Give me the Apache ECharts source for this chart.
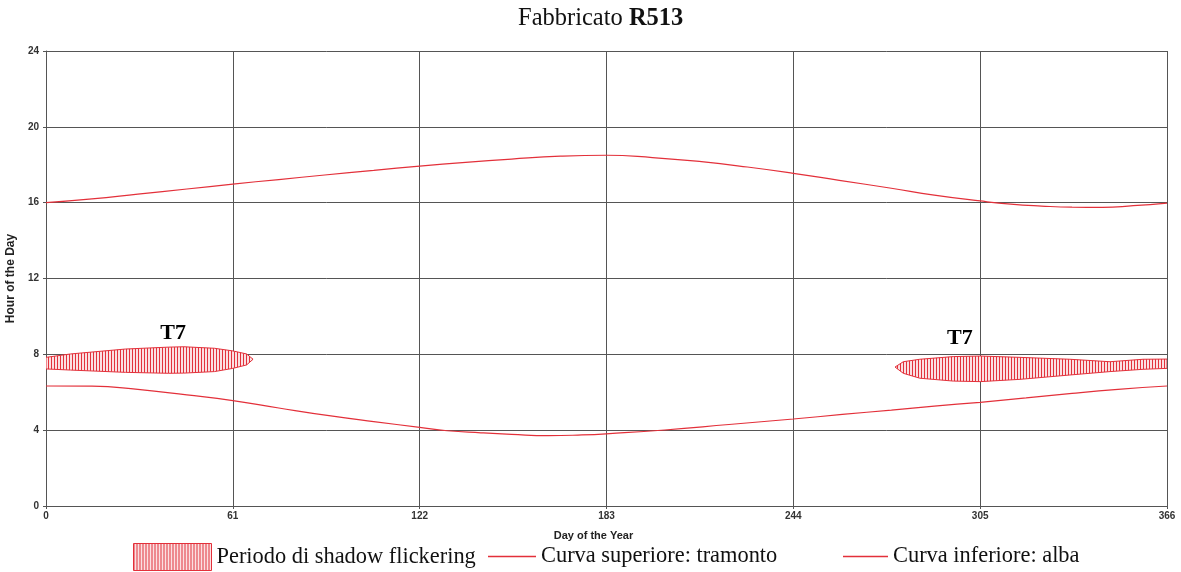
<!DOCTYPE html>
<html>
<head>
<meta charset="utf-8">
<script src="https://cdn.jsdelivr.net/npm/echarts@6/dist/echarts.min.js"></script>
<style>
html,body{margin:0;padding:0;background:#fff;}
#chart{width:1181px;height:572px;}
</style>
</head>
<body>
<div id="chart"></div>
<script>
// ---- data ----
const xTicks = [0, 61, 122, 183, 244, 305, 366];
const yTicks = [0, 4, 8, 12, 16, 20, 24];

const upperDays = [0, 15, 30, 46, 61, 76, 91, 107, 122, 137, 152, 168, 183, 198, 214, 229, 244, 259, 276, 290, 305, 315, 325, 335, 345, 355, 366];
const upperHours = [16.0, 16.2, 16.45, 16.72, 16.98, 17.22, 17.46, 17.70, 17.93, 18.13, 18.30, 18.45, 18.50, 18.38, 18.16, 17.88, 17.55, 17.18, 16.76, 16.40, 16.09, 15.92, 15.82, 15.76, 15.75, 15.84, 15.98];

const lowerDays = [0, 15, 30, 46, 61, 76, 93, 107, 122, 131, 142, 152, 164, 175, 184, 202, 223, 244, 260, 276, 290, 305, 320, 335, 350, 366];
const lowerHours = [6.33, 6.32, 6.15, 5.86, 5.56, 5.17, 4.75, 4.45, 4.15, 3.97, 3.86, 3.78, 3.71, 3.75, 3.82, 4.01, 4.30, 4.59, 4.83, 5.06, 5.27, 5.47, 5.70, 5.94, 6.15, 6.33];

const leftDays = [0, 8, 26, 40, 45, 55, 61, 65.5, 67.6];
const leftTop = [7.84, 8.02, 8.28, 8.38, 8.40, 8.32, 8.18, 8.02, 7.74];
const leftBottom = [7.23, 7.17, 7.05, 7.0, 7.01, 7.09, 7.26, 7.44, 7.74];

const rightDays = [277.2, 279.9, 285.3, 296.2, 305, 318, 334.3, 347.4, 358.2, 366];
const rightTop = [7.33, 7.61, 7.74, 7.88, 7.91, 7.84, 7.74, 7.61, 7.74, 7.75];
const rightBottom = [7.33, 7.0, 6.74, 6.59, 6.56, 6.68, 6.91, 7.09, 7.21, 7.26];

const labelDays = [41.5, 298.4];
const labelHours = [9.12, 8.86];
const labelTexts = ['T7', 'T7'];

const nameShadow = 'Periodo di shadow flickering';
const nameUpper = 'Curva superiore: tramonto';
const nameLower = 'Curva inferiore: alba';

// ---- styles ----
const RED = '#e3303a';
const GRID = '#555555';
const pc = document.createElement('canvas');
pc.width = 3; pc.height = 4;
const ctx = pc.getContext('2d');
ctx.fillStyle = '#fbe0e2';
ctx.fillRect(0, 0, 3, 4);
ctx.fillStyle = '#e2323c';
ctx.fillRect(0, 0, 1, 4);
const hatch = { image: pc, repeat: 'repeat' };
// thin horizontal line icons centred in a 27px tall legend box
const lineIcon48 = 'path://M0,0 M0,12.75 L48,12.75 L48,14.25 L0,14.25 Z M48,27';
const lineIcon45 = 'path://M0,0 M0,12.75 L45,12.75 L45,14.25 L0,14.25 Z M45,27';

const regions = [
  { days: leftDays, top: leftTop, bottom: leftBottom },
  { days: rightDays, top: rightTop, bottom: rightBottom }
];

function renderRegion(params, api) {
  const r = regions[params.dataIndex];
  const pts = [];
  for (let i = 0; i < r.days.length; i++) pts.push(api.coord([r.days[i], r.top[i]]));
  for (let i = r.days.length - 1; i >= 0; i--) pts.push(api.coord([r.days[i], r.bottom[i]]));
  return {
    type: 'polygon',
    shape: { points: pts },
    style: { fill: hatch, stroke: RED, lineWidth: 1 }
  };
}

const chart = echarts.init(document.getElementById('chart'), null, { renderer: 'canvas' });

const axisLabelStyle = { color: '#333', fontFamily: 'Liberation Sans, Arial', fontWeight: 'bold', fontSize: 10 };
const legendText = { fontFamily: 'Liberation Serif, Times New Roman', fontSize: 22.4, color: '#111' };

chart.setOption({
  animation: false,
  backgroundColor: '#fff',
  title: {
    text: '{a|Fabbricato }{b|R513}',
    left: 518, top: 6, padding: 0,
    textStyle: {
      fontWeight: 'normal',
      rich: {
        a: { fontFamily: 'Liberation Serif, Times New Roman', fontSize: 24.5, fontWeight: 'normal', color: '#111' },
        b: { fontFamily: 'Liberation Serif, Times New Roman', fontSize: 24.5, fontWeight: 'bold', color: '#111' }
      }
    }
  },
  grid: { left: 46, right: 14, top: 51, bottom: 66, containLabel: false, outerBoundsMode: 'none' },
  legend: [
    {
      data: [{ name: nameShadow, icon: 'rect', itemStyle: { color: hatch, borderColor: RED, borderWidth: 1 } }],
      left: 133, top: 543, padding: 0, itemWidth: 78, itemHeight: 27,
      textStyle: legendText, selectedMode: false
    },
    {
      data: [{ name: nameUpper, icon: lineIcon48, itemStyle: { color: RED, borderWidth: 0 } }],
      left: 488, top: 543, padding: 0, itemWidth: 48, itemHeight: 27,
      textStyle: legendText, selectedMode: false
    },
    {
      data: [{ name: nameLower, icon: lineIcon45, itemStyle: { color: RED, borderWidth: 0 } }],
      left: 843, top: 543, padding: 0, itemWidth: 45, itemHeight: 27,
      textStyle: legendText, selectedMode: false
    }
  ],
  xAxis: {
    type: 'value', min: 0, max: 366, interval: 61,
    name: 'Day of the Year', nameLocation: 'middle', nameGap: 24,
    nameTextStyle: { fontFamily: 'Liberation Sans Narrow, Liberation Sans, Arial', fontWeight: 'bold', fontSize: 11, color: '#222', padding: [0, 26, 0, 0] },
    axisLine: { show: true, lineStyle: { color: GRID, width: 1 } },
    axisTick: { show: true, length: 3, lineStyle: { color: GRID } },
    axisLabel: Object.assign({ margin: 5, formatter: v => xTicks.includes(v) ? String(v) : '' }, axisLabelStyle),
    splitLine: { show: true, lineStyle: { color: GRID, width: 1 } }
  },
  yAxis: {
    type: 'value', min: 0, max: 24, interval: 4,
    name: 'Hour of the Day', nameLocation: 'middle', nameGap: 26,
    nameTextStyle: { fontFamily: 'Liberation Sans Narrow, Liberation Sans, Arial', fontWeight: 'bold', fontSize: 12, color: '#222' },
    axisLine: { show: true, lineStyle: { color: GRID, width: 1 } },
    axisTick: { show: true, length: 3, lineStyle: { color: GRID } },
    axisLabel: Object.assign({ margin: 7, formatter: v => yTicks.includes(v) ? String(v) : '' }, axisLabelStyle),
    splitLine: { show: true, lineStyle: { color: GRID, width: 1 } }
  },
  series: [
    {
      name: nameShadow, type: 'custom', renderItem: renderRegion, clip: true,
      itemStyle: { color: RED },
      data: regions.map((r, i) => [r.days[0], r.top[0], i]),
      z: 3
    },
    {
      name: nameUpper, type: 'line', smooth: true, symbol: 'none',
      lineStyle: { color: RED, width: 1.2 }, itemStyle: { color: RED },
      data: upperDays.map((d, i) => [d, upperHours[i]]), z: 4
    },
    {
      name: nameLower, type: 'line', smooth: true, symbol: 'none',
      lineStyle: { color: RED, width: 1.2 }, itemStyle: { color: RED },
      data: lowerDays.map((d, i) => [d, lowerHours[i]]), z: 4
    },
    {
      name: 'labels', type: 'scatter', symbolSize: 0, silent: true,
      itemStyle: { opacity: 1 },
      data: labelDays.map((d, i) => ({ value: [d, labelHours[i]], label: { formatter: labelTexts[i] } })),
      label: {
        show: true, position: 'inside', opacity: 1,
        fontFamily: 'Liberation Serif, Times New Roman', fontWeight: 'bold', fontSize: 22, color: '#000'
      },
      z: 5
    }
  ]
});
</script>
</body>
</html>
